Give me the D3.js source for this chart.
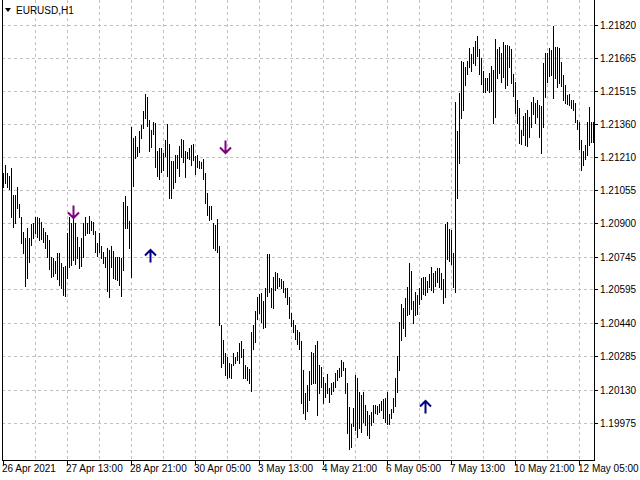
<!DOCTYPE html>
<html><head><meta charset="utf-8">
<script src="https://cdn.jsdelivr.net/npm/d3@7"></script>
<style>
html,body{margin:0;padding:0;background:#fff;}
svg{display:block;}
text{font-family:"Liberation Sans",Arial,sans-serif;font-size:10px;fill:#000;}
</style>
</head><body>
<svg id="c" width="640" height="480"></svg>
<script>
const symbolLabel = "EURUSD,H1";
const highs = [
1.21134,1.21171,1.21134,1.21120,1.21157,1.21032,1.21032,1.21069,1.20990,1.20930,
1.20860,1.20833,1.20879,1.20833,1.20897,1.20902,1.20930,1.20930,1.20925,1.20907,
1.20879,1.20860,1.20846,1.20823,1.20744,1.20740,1.20726,1.20763,1.20763,1.20717,
1.20698,1.20703,1.20856,1.20930,1.20902,1.20930,1.20902,1.20837,1.20791,1.20833,
1.20902,1.20930,1.20902,1.20935,1.20911,1.20907,1.20865,1.20810,1.20856,1.20796,
1.20768,1.20744,1.20786,1.20777,1.20796,1.20772,1.20744,1.20744,1.20744,1.20740,
1.20999,1.21027,1.20981,1.20911,1.21347,1.21296,1.21305,1.21254,1.21329,1.21356,
1.21421,1.21500,1.21486,1.21380,1.21333,1.21370,1.21366,1.21236,1.21250,1.21250,
1.21227,1.21287,1.21361,1.21268,1.21190,1.21190,1.21217,1.21217,1.21259,1.21292,
1.21287,1.21236,1.21231,1.21250,1.21264,1.21268,1.21213,1.21217,1.21190,1.21185,
1.21199,1.21134,1.21041,1.20981,1.20981,1.20902,1.20893,1.20921,1.20796,1.20429,
1.20360,1.20300,1.20281,1.20253,1.20249,1.20300,1.20281,1.20304,1.20346,1.20355,
1.20318,1.20244,1.20235,1.20225,1.20397,1.20429,1.20494,1.20559,1.20573,1.20578,
1.20541,1.20601,1.20759,1.20759,1.20601,1.20652,1.20675,1.20670,1.20647,1.20643,
1.20633,1.20601,1.20601,1.20559,1.20485,1.20453,1.20429,1.20406,1.20397,1.20355,
1.20221,1.20114,1.20151,1.20216,1.20304,1.20300,1.20337,1.20355,1.20244,1.20235,
1.20188,1.20160,1.20202,1.20137,1.20160,1.20165,1.20207,1.20221,1.20230,1.20267,
1.20258,1.20230,1.20160,1.20049,1.19970,1.20045,1.20198,1.20184,1.20119,1.20105,
1.20119,1.20058,1.20031,1.20012,1.20026,1.20058,1.20058,1.20054,1.20063,1.20077,
1.20086,1.20091,1.20119,1.20017,1.20040,1.20091,1.20184,1.20286,1.20443,1.20527,
1.20508,1.20554,1.20605,1.20717,1.20680,1.20541,1.20582,1.20568,1.20601,1.20647,
1.20652,1.20652,1.20633,1.20666,1.20698,1.20670,1.20680,1.20694,1.20694,1.20670,
1.20643,1.20897,1.20907,1.20874,1.20870,1.20763,1.21463,1.21329,1.21505,1.21653,
1.21649,1.21625,1.21653,1.21714,1.21686,1.21718,1.21746,1.21769,1.21709,1.21667,
1.21607,1.21574,1.21574,1.21598,1.21630,1.21612,1.21755,1.21709,1.21718,1.21690,
1.21741,1.21727,1.21727,1.21723,1.21709,1.21593,1.21556,1.21472,1.21435,1.21333,
1.21398,1.21412,1.21426,1.21394,1.21463,1.21486,1.21458,1.21472,1.21449,1.21445,
1.21644,1.21690,1.21690,1.21714,1.21704,1.21816,1.21718,1.21718,1.21714,1.21649,
1.21588,1.21542,1.21496,1.21500,1.21472,1.21472,1.21458,1.21380,1.21370,1.21287,
1.21236,1.21264,1.21370,1.21440,1.21370,1.21370
];
const lows = [
1.21069,1.21088,1.21069,1.21060,1.20930,1.20884,1.20902,1.20972,1.20930,1.20810,
1.20763,1.20610,1.20647,1.20721,1.20800,1.20833,1.20856,1.20837,1.20823,1.20828,
1.20814,1.20786,1.20744,1.20689,1.20652,1.20656,1.20670,1.20643,1.20615,1.20601,
1.20568,1.20564,1.20647,1.20698,1.20708,1.20731,1.20712,1.20740,1.20694,1.20703,
1.20744,1.20846,1.20856,1.20856,1.20870,1.20851,1.20768,1.20749,1.20768,1.20740,
1.20717,1.20698,1.20587,1.20559,1.20698,1.20647,1.20643,1.20638,1.20615,1.20564,
1.20684,1.20879,1.20879,1.20786,1.20652,1.21074,1.21203,1.21213,1.21231,1.21296,
1.21343,1.21389,1.21352,1.21236,1.21254,1.21315,1.21162,1.21120,1.21106,1.21139,
1.21148,1.21213,1.21120,1.21018,1.21018,1.21064,1.21092,1.21157,1.21120,1.21208,
1.21185,1.21115,1.21203,1.21199,1.21171,1.21194,1.21129,1.21162,1.21157,1.21157,
1.21106,1.20995,1.20939,1.20916,1.20921,1.20786,1.20777,1.20768,1.20429,1.20235,
1.20253,1.20198,1.20184,1.20188,1.20184,1.20244,1.20253,1.20267,1.20253,1.20281,
1.20184,1.20184,1.20174,1.20160,1.20123,1.20318,1.20350,1.20457,1.20485,1.20443,
1.20415,1.20420,1.20564,1.20582,1.20513,1.20508,1.20592,1.20601,1.20610,1.20601,
1.20582,1.20559,1.20527,1.20462,1.20425,1.20397,1.20364,1.20341,1.20318,1.20068,
1.20021,1.19994,1.20031,1.20082,1.20156,1.20160,1.20160,1.20012,1.20114,1.20142,
1.20068,1.20096,1.20114,1.20072,1.20109,1.20123,1.20142,1.20174,1.20188,1.20193,
1.20221,1.20114,1.19929,1.19854,1.19864,1.19961,1.19943,1.19910,1.19952,1.19933,
1.19980,1.19966,1.19919,1.19905,1.19966,1.19980,1.20021,1.20017,1.20026,1.20035,
1.19998,1.19980,1.19970,1.19970,1.19998,1.20026,1.20054,1.20119,1.20221,1.20360,
1.20415,1.20378,1.20476,1.20480,1.20503,1.20439,1.20476,1.20480,1.20527,1.20550,
1.20573,1.20568,1.20582,1.20605,1.20592,1.20582,1.20610,1.20629,1.20605,1.20596,
1.20531,1.20559,1.20735,1.20726,1.20712,1.20605,1.20582,1.21018,1.21180,1.21389,
1.21426,1.21542,1.21593,1.21625,1.21607,1.21644,1.21635,1.21676,1.21593,1.21547,
1.21510,1.21510,1.21519,1.21510,1.21514,1.21366,1.21394,1.21574,1.21598,1.21556,
1.21579,1.21528,1.21542,1.21625,1.21551,1.21491,1.21412,1.21366,1.21273,1.21268,
1.21310,1.21264,1.21259,1.21301,1.21347,1.21407,1.21366,1.21394,1.21301,1.21227,
1.21347,1.21486,1.21556,1.21584,1.21588,1.21482,1.21574,1.21533,1.21551,1.21537,
1.21472,1.21458,1.21454,1.21449,1.21435,1.21426,1.21370,1.21338,1.21245,1.21148,
1.21171,1.21199,1.21217,1.21264,1.21278,1.21278
];
const priceTicks = [1.21820,1.21665,1.21515,1.21360,1.21210,1.21055,1.20900,1.20745,1.20595,1.20440,1.20285,1.20130,1.19975];
const timeTickBars = [0,32,64,96,128,160,192,224,256,288];
const timeTickLabels = ["26 Apr 2021","27 Apr 13:00","28 Apr 21:00","30 Apr 05:00","3 May 13:00","4 May 21:00","6 May 05:00","7 May 13:00","10 May 21:00","12 May 05:00"];
const gridStepBars = 16;
const sellBars = [35, 111];
const sellPrices = [1.20953, 1.21254];
const buyBars = [73.5, 211];
const buyPrices = [1.20749, 1.20049];

const W = 640, H = 480;
const plotLeft = 2, plotRight = 594, plotBottom = 460;
const svg = d3.select("#c");
const n = highs.length;
const x = d3.scaleLinear().domain([0, n - 1]).range([3, 3 + 2 * (n - 1)]);
const y = d3.scaleLinear().domain([1.19975, 1.21820]).range([423, 25]);
const px = v => Math.round(v) + 0.5;

// grid
const grid = svg.append("g").attr("stroke", "#c0c0c0").attr("stroke-dasharray", "3,3").attr("stroke-width", 1);
grid.selectAll("line.h").data(priceTicks).enter().append("line")
  .attr("x1", plotLeft).attr("x2", plotRight).attr("y1", d => px(y(d))).attr("y2", d => px(y(d)));
const vBars = d3.range(gridStepBars, n, gridStepBars);
grid.selectAll("line.v").data(vBars).enter().append("line")
  .attr("y1", 0).attr("y2", plotBottom).attr("x1", d => px(x(d))).attr("x2", d => px(x(d)));

// bars
svg.append("g").attr("stroke", "#000").attr("stroke-width", 1)
  .selectAll("line").data(d3.range(n)).enter().append("line")
  .attr("x1", i => px(x(i))).attr("x2", i => px(x(i)))
  .attr("y1", i => Math.round(y(highs[i])))
  .attr("y2", i => Math.round(y(lows[i])) + 1);

// arrows
function arrow(g, cx, cy, up, color) {
  const p = up ? "M0,6.5 L0,-6 M-5.5,-0.5 L0,-6 L5.5,-0.5" : "M0,-6.5 L0,6 M-5.5,0.5 L0,6 L5.5,0.5";
  g.append("path").attr("d", p).attr("transform", `translate(${cx},${cy})`)
    .attr("fill", "none").attr("stroke", color).attr("stroke-width", 2);
}
const ag = svg.append("g");
sellBars.forEach((b, k) => arrow(ag, x(b) + 0.5, Math.round(y(sellPrices[k])), false, "#800080"));
buyBars.forEach((b, k) => arrow(ag, x(b) + 0.5, Math.round(y(buyPrices[k])), true, "#000080"));

// axes frame
svg.append("line").attr("x1", px(plotLeft)).attr("x2", px(plotLeft)).attr("y1", 0).attr("y2", plotBottom + 1).attr("stroke", "#000");
svg.append("line").attr("x1", px(plotRight)).attr("x2", px(plotRight)).attr("y1", 0).attr("y2", plotBottom + 1).attr("stroke", "#000");
svg.append("line").attr("x1", plotLeft).attr("x2", plotRight + 1).attr("y1", px(plotBottom)).attr("y2", px(plotBottom)).attr("stroke", "#000");

// right axis
const ra = svg.append("g");
ra.selectAll("line").data(priceTicks).enter().append("line")
  .attr("x1", plotRight).attr("x2", plotRight + 4).attr("y1", d => px(y(d))).attr("y2", d => px(y(d))).attr("stroke", "#000");
ra.selectAll("text").data(priceTicks).enter().append("text")
  .attr("x", 600).attr("y", d => Math.round(y(d)) + 4).text(d => d.toFixed(5));

// bottom axis
const ba = svg.append("g");
ba.selectAll("line").data(timeTickBars).enter().append("line")
  .attr("x1", d => px(x(d))).attr("x2", d => px(x(d))).attr("y1", plotBottom).attr("y2", plotBottom + 5).attr("stroke", "#000");
ba.selectAll("text").data(timeTickBars).enter().append("text")
  .attr("x", d => x(d) - 1).attr("y", 472).text((d, i) => timeTickLabels[i]);

// title
svg.append("path").attr("d", "M5,8 L11,8 L8,12 Z").attr("fill", "#000");
svg.append("text").attr("x", 16).attr("y", 14).text(symbolLabel);
</script>
</body></html>
